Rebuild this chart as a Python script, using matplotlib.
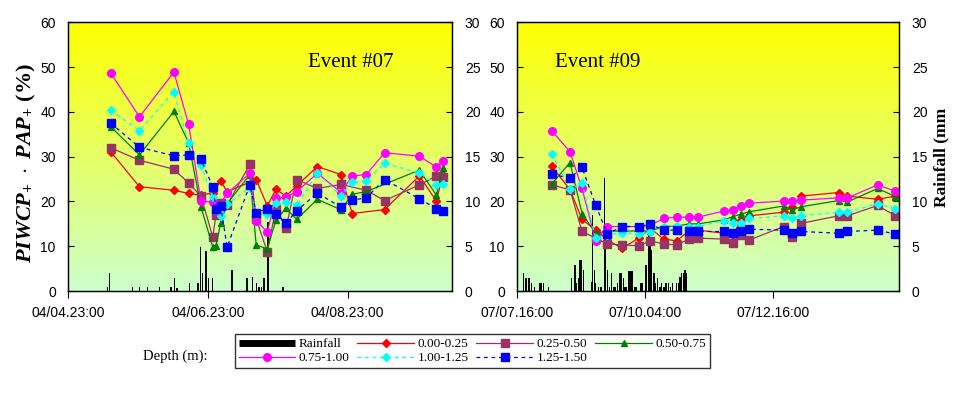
import numpy as np
import matplotlib
matplotlib.use('Agg')
import matplotlib.pyplot as plt
from matplotlib.lines import Line2D

# ---- Event #07 (days from 04/04 23:00) ----
t07 = [0.608, 1.020, 1.513, 1.724, 1.901, 2.069, 2.117, 2.184, 2.275, 2.601, 2.692,
       2.850, 2.974, 3.118, 3.271, 3.568, 3.908, 4.066, 4.267, 4.531, 5.029, 5.273, 5.364]
d07_000 = [31.1, 23.3, 22.5, 21.8, 21.4, 21.9, None, 24.6, 22.2, None, 24.9,
           19.0, 22.7, 21.2, 23.5, 27.8, 26.0, 17.3, None, 18.2, 25.7, 20.1, 26.0]
d07_025 = [32.0, 29.2, 27.2, 24.1, 21.2, 12.1, 17.0, 19.6, 19.2, 28.3, 16.1,
           8.8, 18.4, 14.0, 24.9, 22.9, 23.8, None, 22.5, 20.2, 23.7, 25.7, 25.5]
d07_050 = [36.7, 30.4, 40.1, 33.1, 18.8, 9.9, 10.1, 15.3, 19.5, 26.0, 10.3,
           9.4, 15.8, 18.5, 16.0, 20.5, 18.1, 21.6, 22.2, None, 27.0, 21.4, 27.4]
d07_075 = [48.7, 38.9, 48.9, 37.2, 20.0, 19.9, 18.1, None, 21.8, 26.3, 15.7,
           13.2, 20.7, 21.0, 22.2, 26.3, 22.0, 25.7, 26.0, 30.9, 30.1, 27.7, 29.0]
d07_100 = [40.4, 35.8, 44.5, 33.0, 28.1, 20.9, None, 16.7, 19.4, 23.1, 17.3,
           17.2, 19.7, 19.9, 19.2, 26.3, 21.2, 24.4, 24.6, 28.5, 26.4, 23.7, 23.9]
d07_125 = [37.5, 32.1, 30.2, 30.4, 29.4, 23.3, 18.4, 19.0, 9.8, 23.7, 17.5,
           18.4, 17.3, 15.2, 17.9, 21.9, 18.7, 20.3, 20.8, 24.9, 20.6, 18.4, 17.9]
rain07_t = [0.565, 0.589, 0.920, 1.020, 1.135, 1.312, 1.470, 1.523, 1.557, 1.739,
            1.858, 1.897, 1.925, 1.973, 2.011, 2.069, 2.347, 2.356, 2.562, 2.644,
            2.692, 2.725, 2.739, 2.763, 2.802, 2.859, 3.075]
rain07_mm = [0.5, 2.0, 0.5, 0.5, 0.5, 0.5, 0.5, 1.4, 0.3, 0.9,
             0.9, 4.9, 2.0, 4.5, 1.5, 1.5, 2.3, 2.3, 1.5, 1.6,
             0.9, 0.5, 0.5, 0.5, 1.4, 7.7, 0.5]

# ---- Event #09 (days from 07/07 16:00) ----
t09 = [0.671, 1.029, 1.263, 1.530, 1.758, 2.038, 2.370, 2.598, 2.858, 3.112, 3.359,
       3.535, 4.036, 4.206, 4.368, 4.531, 5.202, 5.371, 5.534, 6.276, 6.445, 7.038, 7.383]
d09_000 = [27.9, 22.6, 16.0, 13.6, 11.5, 9.5, 11.8, 14.0, 11.6, 11.2, 13.5,
           13.6, 12.9, 12.4, 15.9, 16.8, 17.6, 18.8, 21.2, 22.0, 21.2, 20.5, 21.2]
d09_025 = [23.7, 22.6, 13.3, 11.8, 10.5, 10.3, 10.1, 11.2, 10.5, 10.3, 11.6,
           11.8, 11.6, 10.8, 12.5, 11.4, 14.4, 12.1, 15.1, 16.8, 16.8, 19.1, 16.8]
d09_050 = [23.9, 28.7, 17.3, 12.9, 13.4, 13.4, 13.4, 13.4, 14.4, 14.5, 15.0,
           15.0, 15.9, 16.6, 17.2, 17.7, 19.0, 18.1, 18.8, 20.2, 19.9, 22.9, 21.1]
d09_075 = [35.8, 31.1, 22.9, 11.2, 14.4, 14.4, 14.4, 14.7, 16.2, 16.5, 16.5,
           16.5, 17.9, 18.2, 19.0, 19.6, 20.1, 20.1, 20.3, 20.8, 20.8, 23.7, 22.3]
d09_100 = [30.7, 22.8, 24.1, 11.8, 12.6, 13.0, 12.7, 13.1, 14.4, 14.6, 14.4,
           14.4, 15.7, 15.1, 15.1, 16.2, 16.8, 16.2, 16.8, 17.6, 17.6, 19.5, 18.4]
d09_125 = [26.1, 25.2, 27.6, 19.2, 12.7, 14.4, 14.4, 14.9, 13.6, 13.6, 13.3,
           13.3, 13.3, 12.9, 13.4, 13.8, 13.6, 12.9, 13.3, 12.9, 13.3, 13.6, 12.7]
rain09_t = [0.117, 0.169, 0.215, 0.234, 0.280, 0.332, 0.443, 0.475, 0.508, 0.605,
            1.061, 1.126, 1.159, 1.191, 1.224, 1.257, 1.289, 1.452, 1.471, 1.504,
            1.530, 1.582, 1.634, 1.699, 1.725, 1.764, 1.797, 1.842, 1.888, 1.921,
            1.953, 2.005, 2.038, 2.070, 2.103, 2.135, 2.181, 2.220, 2.253, 2.298,
            2.331, 2.415, 2.448, 2.513, 2.559, 2.591, 2.624, 2.669, 2.702, 2.741,
            2.786, 2.819, 2.865, 2.904, 2.949, 2.995, 3.034, 3.112, 3.145, 3.177,
            3.210, 3.242, 3.275, 3.307]
rain09_mm = [2.0, 1.4, 1.4, 1.4, 0.9, 0.5, 0.9, 0.9, 0.9, 0.5,
             1.4, 2.9, 0.9, 1.4, 3.5, 3.5, 2.3, 1.0, 8.5, 2.3,
             0.9, 0.5, 0.5, 12.6, 4.8, 2.3, 0.5, 2.0, 0.5, 0.5,
             0.9, 2.0, 2.0, 1.4, 0.5, 0.5, 2.2, 2.2, 2.2, 0.5,
             0.5, 0.9, 0.9, 2.9, 6.4, 6.4, 4.6, 2.0, 0.9, 1.4,
             0.5, 0.9, 0.5, 0.9, 0.9, 0.5, 0.9, 0.9, 0.9, 1.6,
             2.0, 2.0, 2.3, 2.0]

depth_labels = ['0.00-0.25', '0.25-0.50', '0.50-0.75', '0.75-1.00', '1.00-1.25', '1.25-1.50']
xtick_07 = ['04/04.23:00', '04/06.23:00', '04/08.23:00']
xtick_09 = ['07/07.16:00', '07/10.04:00', '07/12.16:00']

# стили серий
styles = [
    dict(color='#FF0000', marker='D', ms=4.0, ls='-'),
    dict(color='#993366', marker='s', ms=6.0, ls='-'),
    dict(color='#008000', marker='^', ms=5.0, ls='-'),
    dict(color='#FF00FF', marker='o', ms=5.5, ls='-'),
    dict(color='#00FFFF', marker='D', ms=4.0, ls=(0, (3, 3))),
    dict(color='#0000FF', marker='s', ms=6.0, ls=(0, (3, 3))),
]

serif = 'Liberation Serif'
narrow = ['Liberation Sans Narrow', 'Liberation Sans', 'DejaVu Sans']
plt.rcParams['mathtext.fontset'] = 'custom'
plt.rcParams['mathtext.it'] = 'Liberation Serif:italic:bold'
plt.rcParams['mathtext.rm'] = 'Liberation Serif:bold'
plt.rcParams['mathtext.bf'] = 'Liberation Serif:bold'


def draw_event(fig, rect, times, series, rain_t, rain_mm, xmax, xticks, xlabels, title, tx):
    ax = fig.add_axes(rect)
    ax2 = ax.twinx()
    ax.set_zorder(2)
    ax2.set_zorder(1)
    ax.patch.set_visible(False)

    # фон-градиент: жёлтый сверху, светло-зелёный снизу
    top = np.array([1.0, 1.0, 0.0])
    bot = np.array([0.8, 1.0, 0.8])
    f = np.linspace(0, 1, 256)[:, None]
    grad = (top * (1 - f) + bot * f)[:, None, :]
    ax2.imshow(grad, extent=[0, xmax, 0, 30], aspect='auto', zorder=0)

    ax2.bar(rain_t, rain_mm, width=xmax / 300.0, color='black', zorder=2)
    ax2.set_ylim(0, 30)
    ax2.set_yticks(range(0, 31, 5))

    for vals, st in zip(series, styles):
        xs = [t for t, v in zip(times, vals) if v is not None]
        ys = [v for v in vals if v is not None]
        ax.plot(xs, ys, color=st['color'], ls=st['ls'], lw=0.9,
                marker=st['marker'], ms=st['ms'], mec=st['color'], mfc=st['color'])

    ax.set_xlim(0, xmax)
    ax.set_ylim(0, 60)
    ax.set_yticks(range(0, 61, 10))
    ax.set_xticks(xticks)
    ax.set_xticklabels(xlabels)
    ax.tick_params(axis='x', direction='out', length=5, width=0.8, pad=6)
    ax.tick_params(axis='y', direction='in', length=4, width=0.8, pad=9)
    ax2.tick_params(axis='y', direction='in', length=4, width=0.8, pad=9)
    for a in (ax, ax2):
        for lab in a.get_xticklabels() + a.get_yticklabels():
            lab.set_family(narrow)
            lab.set_fontsize(10)
        for s in a.spines.values():
            s.set_linewidth(0.9)
    ax.text(tx, 0.85, title, transform=ax.transAxes, family=serif,
            fontsize=15, va='center', ha='left')
    return ax, ax2


fig = plt.figure(figsize=(9.6, 3.98), dpi=100)

ax_l, ax_l2 = draw_event(fig, [0.0711, 0.2688, 0.4, 0.675], t07,
                         [d07_000, d07_025, d07_050, d07_075, d07_100, d07_125],
                         rain07_t, rain07_mm, 5.5, [0, 2, 4], xtick_07, 'Event #07', 0.624)
ax_r, ax_r2 = draw_event(fig, [0.5389, 0.2688, 0.3979, 0.675], t09,
                         [d09_000, d09_025, d09_050, d09_075, d09_100, d09_125],
                         rain09_t, rain09_mm, 7.46, [0, 2.5, 5.0], xtick_09, 'Event #09', 0.099)

fig.text(0.028, 1 - 163 / 398, r'$PIWCP_{+}\ \cdot\ PAP_{+}\ \mathrm{(\%)}$',
         rotation=90, ha='center', va='center', fontsize=16)
fig.text(941.7 / 960, 1 - 157.5 / 398, 'Rainfall (mm', rotation=90, ha='center',
         va='center', family=serif, fontweight='bold', fontsize=12.5)

# легенда
handles = [Line2D([], [], color='black', lw=5, solid_capstyle='butt')]
for st in styles:
    handles.append(Line2D([], [], color=st['color'], ls=st['ls'], lw=0.9,
                          marker=st['marker'], ms=st['ms'], mec=st['color'], mfc=st['color']))
labels = ['Rainfall'] + depth_labels
order = [0, 4, 1, 5, 2, 6, 3]
leg = fig.legend([handles[i] for i in order], [labels[i] for i in order],
                 loc='lower left', bbox_to_anchor=(0.2375, 0.058), ncol=4,
                 prop={'family': serif, 'size': 9.5}, frameon=True, fancybox=False,
                 edgecolor='black', handlelength=4.3, handletextpad=0.25,
                 columnspacing=0.6, labelspacing=0.15, borderpad=0.3, markerscale=1.0)
leg.get_frame().set_linewidth(1.0)
fig.text(0.149, 1 - 356 / 398, 'Depth (m):', family=serif, fontsize=10.5, va='center', ha='left')

fig.savefig('out.png', dpi=100)
